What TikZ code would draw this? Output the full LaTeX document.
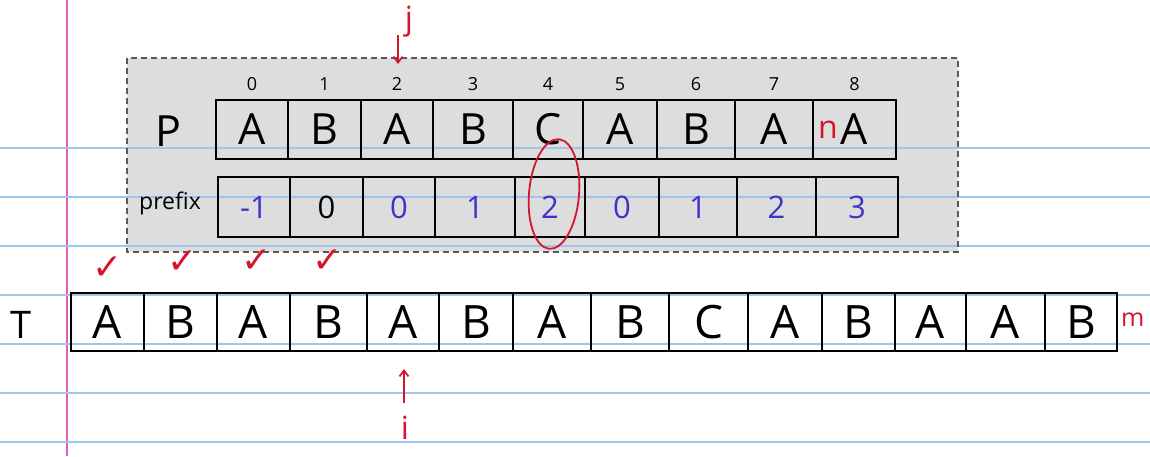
\documentclass[tikz,border=0pt]{standalone}
\usepackage{fontspec}
\setmainfont{Open Sans}
\newfontfamily\symfont{DejaVu Sans}
\usetikzlibrary{arrows.meta,calc}
\definecolor{inkred}{RGB}{212,22,45}
\definecolor{inkblue}{RGB}{62,50,200}
\definecolor{ruleblue}{RGB}{160,196,236}
\definecolor{marginpink}{RGB}{222,92,188}
\definecolor{boxgray}{RGB}{221,221,221}
\begin{document}
\begin{tikzpicture}[x=1pt,y=-1pt,
  cell/.style={draw=black, line width=2.6pt, inner sep=0pt, outer sep=0pt},
  pletter/.style={font=\fontsize{43}{45}\selectfont},
  tletter/.style={font=\fontsize{46}{48}\selectfont},
  numtxt/.style={font=\fontsize{31}{33}\selectfont},
  idx/.style={font=\fontsize{18}{20}\selectfont, inner sep=0pt},
  rowlabel/.style={font=\fontsize{43}{45}\selectfont, inner sep=0pt},
  redtxt/.style={text=inkred, font=\fontsize{32}{34}\selectfont, inner sep=0pt},
  chk/.style={text=inkred, font=\symfont\fontsize{36}{38}\selectfont, inner sep=0pt},
  redarrow/.style={draw=inkred, line width=1.7pt, -{Straight Barb[length=6pt,width=9pt]}},
  notebookline/.style={draw=ruleblue, line width=1.3pt}]
\useasboundingbox (0,0) rectangle (1150,456);
\fill[white] (0,0) rectangle (1150,456);
% margin line
\draw[draw=marginpink, line width=1.4pt] (67,0) -- (67,456);
% gray panel
\fill[boxgray] (127,58) rectangle (958,252);
% notebook lines
\foreach \yy in {148,197,246,295,344,393,442}
  \draw[notebookline] (0,\yy) -- (1150,\yy);
\draw[draw=black!65, line width=1.2pt, dash pattern=on 6pt off 4pt] (127,58) rectangle (958,252);
% row labels
\node[rowlabel] (Plab) at (168,131) {P};
\node[font=\fontsize{23}{25}\selectfont, inner sep=0pt] (preflab) at (170,203) {prefix};
\node[rowlabel, font=\fontsize{38}{40}\selectfont] (Tlab) at (21,325) {T};
% P row
\foreach \a/\b/\t [count=\k from 0] in {216/288/A,288/361/B,361/433/A,433/513/B,513/583/C,583/657/A,657/735/B,735/813/A,813/896/A}
  \node[cell, pletter, minimum width={\b-\a}, minimum height=59] (p\k) at ({(\a+\b)/2},129.5) {\t};
% indices
\foreach \k in {0,...,8}
  \node[idx] (n\k) at ($(p\k.north)+(0,-16)$) {\k};
% prefix row
\foreach \a/\b/\t/\c [count=\k from 0] in {218/290/-1/inkblue,290/363/0/black,363/435/0/inkblue,435/515/1/inkblue,515/585/2/inkblue,585/659/0/inkblue,659/737/1/inkblue,737/816/2/inkblue,816/898/3/inkblue}
  \node[cell, numtxt, text=\c, minimum width={\b-\a}, minimum height=60] (f\k) at ({(\a+\b)/2},207) {\t};
% T row
\foreach \a/\b/\t [count=\k from 0] in {71/144/A,144/217/B,217/290/A,290/367/B,367/439/A,439/513/B,513/591/A,591/669/B,669/748/C,748/822/A,822/895/B,895/966/A,966/1045/A,1045/1117/B}
  \node[cell, tletter, minimum width={\b-\a}, minimum height=58] (t\k) at ({(\a+\b)/2},322) {\t};
% red marks
\node[redtxt] (nmark) at (828,130) {n};
\node[redtxt, font=\fontsize{25}{27}\selectfont, anchor=west] (mmark) at (1121,320) {m};
\draw[draw=inkred, line width=1.8pt, rotate around={-5:(554,194)}] (554,194) ellipse [x radius=25, y radius=55];
% j pointer
\node[redtxt] (jlab) at (409,22) {j};
\coordinate (jtail) at (398,35);
\coordinate (jtip) at (398,64);
\draw[redarrow] (jtail) -- (jtip);
% i pointer
\node[redtxt] (ilab) at (405,428) {i};
\coordinate (itail) at (404,403);
\coordinate (itip) at (404,369);
\draw[redarrow] (itail) -- (itip);
% check marks
\node[chk] (c0) at (108,268) {✓};
\node[chk] (c1) at (183,262) {✓};
\node[chk] (c2) at (257,261) {✓};
\node[chk] (c3) at (328,261) {✓};
\end{tikzpicture}
\end{document}
